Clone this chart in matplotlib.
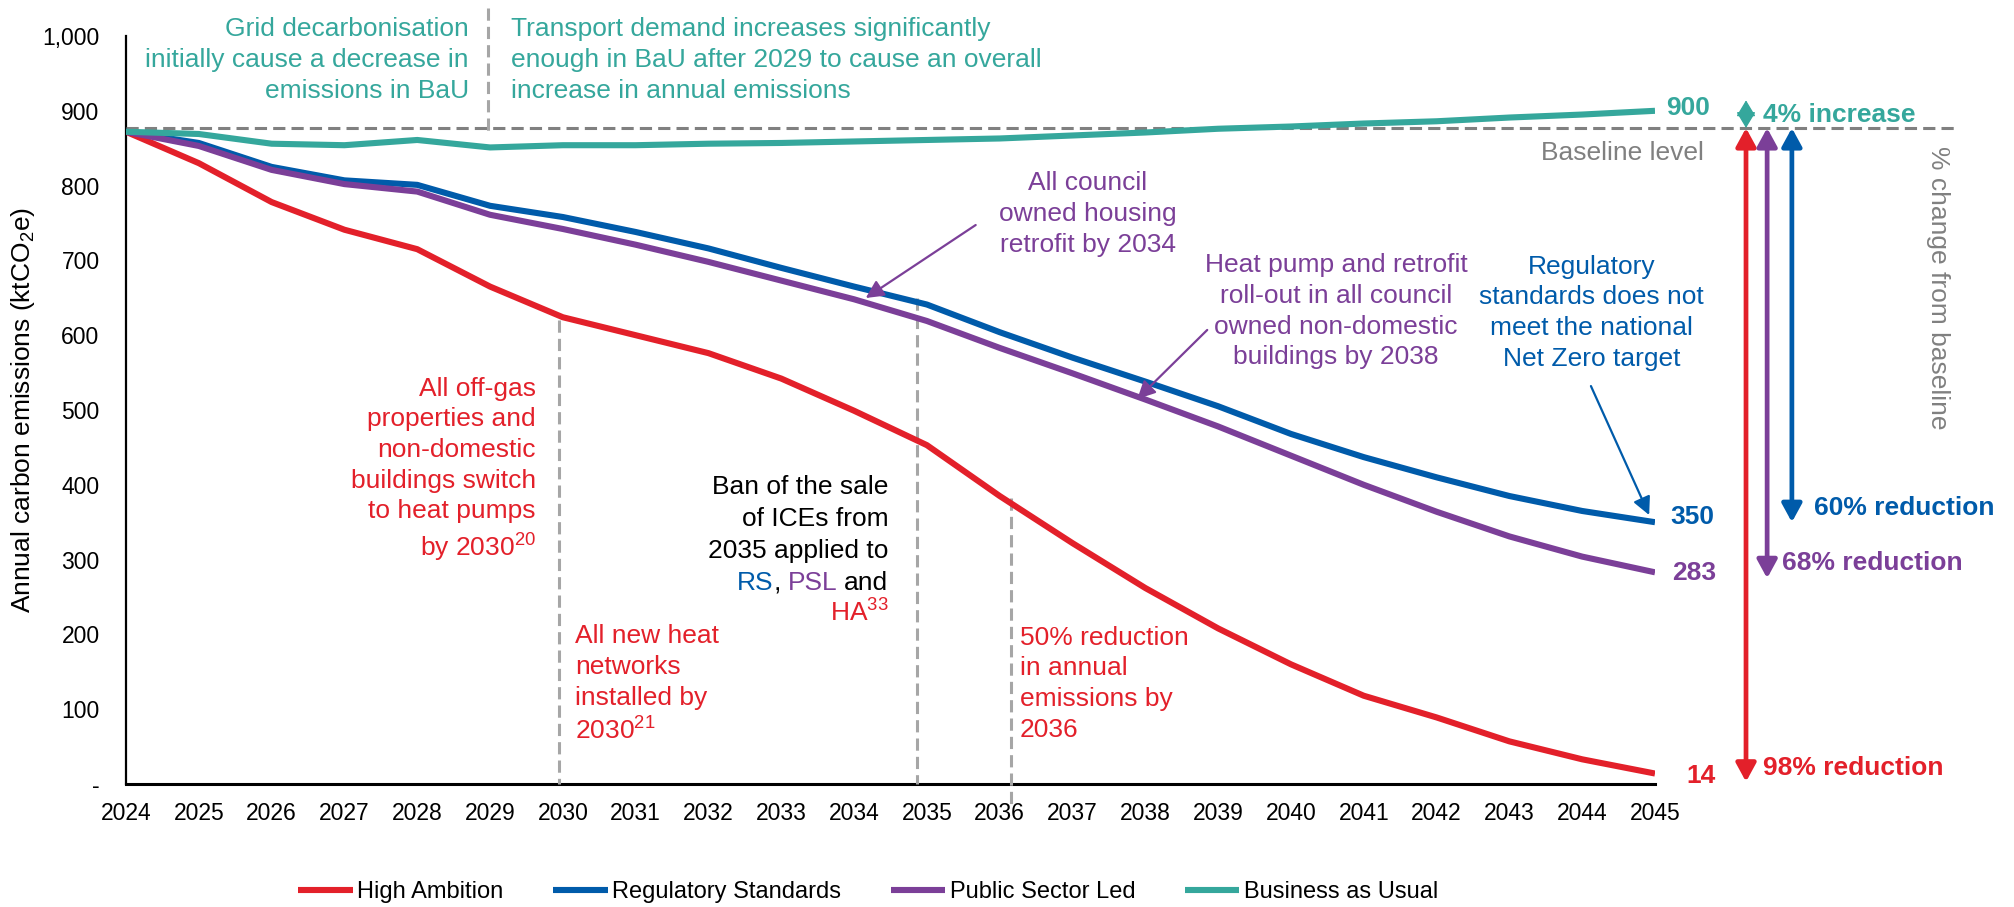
import matplotlib
matplotlib.use("Agg")
import matplotlib.pyplot as plt
from matplotlib.ticker import FuncFormatter

plt.rcParams["font.family"] = ["Liberation Sans", "DejaVu Sans"]
plt.rcParams["mathtext.fontset"] = "custom"
plt.rcParams["mathtext.rm"] = "Liberation Sans"
plt.rcParams["mathtext.it"] = "Liberation Sans:italic"
plt.rcParams["mathtext.bf"] = "Liberation Sans:bold"

# ---- data (ktCO2e per year) ----
years = list(range(2024, 2046))
high_ambition = [872, 830, 778, 741, 715, 665, 624, 600, 576, 542, 499, 453,
                 385, 322, 262, 208, 160, 118, 89, 57, 33, 14]
regulatory_standards = [872, 857, 825, 807, 801, 773, 758, 738, 716, 690, 665, 641,
                        604, 570, 538, 505, 468, 437, 410, 385, 365, 350]
public_sector_led = [872, 853, 821, 802, 792, 761, 742, 721, 698, 673, 648, 619,
                     583, 549, 514, 478, 439, 400, 364, 331, 304, 283]
business_as_usual = [872, 869, 856, 854, 861, 851, 854, 854, 856, 857, 859, 861,
                     863, 867, 871, 876, 879, 883, 886, 891, 895, 900]
series_names = ["High Ambition", "Regulatory Standards", "Public Sector Led", "Business as Usual"]
baseline_level = 877
y_ticks = list(range(0, 1001, 100))

RED = "#E3202A"
BLUE = "#005BAA"
PURPLE = "#7B3F98"
TEAL = "#35A79C"
GREY = "#808080"
LIGHT_GREY = "#A6A6A6"

fig = plt.figure(figsize=(20.15, 9.07), dpi=100)
ax = fig.add_axes([126 / 2015, 1 - 784 / 907, 1529 / 2015, 748 / 907])

series = [high_ambition, regulatory_standards, public_sector_led, business_as_usual]
colors = [RED, BLUE, PURPLE, TEAL]
for vals, col, name in zip(series, colors, series_names):
    ax.plot(years, vals, color=col, lw=4.4, label=name, solid_capstyle="butt", zorder=5)

ax.set_xlim(2024, 2045)
ax.set_ylim(0, 1000)
ax.set_xticks(years)
ax.set_xticklabels([str(y) for y in years])
ax.set_yticks(y_ticks)
ax.yaxis.set_major_formatter(FuncFormatter(lambda v, p: "-" if v == 0 else f"{int(v):,}"))
ax.tick_params(axis="both", length=0, labelsize=16.5, colors="black")
ax.tick_params(axis="y", pad=19)
ax.tick_params(axis="x", pad=13)
for s in ["top", "right"]:
    ax.spines[s].set_visible(False)
ax.spines["left"].set_linewidth(1.6)
ax.spines["bottom"].set_linewidth(2.2)
ax.set_ylabel("Annual carbon emissions (ktCO$_2$e)", fontsize=19)
ax.yaxis.set_label_coords(-0.058, 0.5)

# ---- reference lines ----
dash = (4, 2)
ax.plot([2024, 2049.12], [baseline_level, baseline_level], color=GREY, lw=2.2,
        dashes=dash, clip_on=False, zorder=3)
ax.plot([2028.97, 2028.97], [1037, 870], color=LIGHT_GREY, lw=2.2, dashes=dash,
        clip_on=False, zorder=3)
for x, top, bottom in [(2029.95, 620, 0), (2034.86, 650, 0), (2036.15, 382, -32)]:
    ax.plot([x, x], [top, bottom], color=LIGHT_GREY, lw=2.2, dashes=dash,
            clip_on=False, zorder=3)

# ---- annotation text ----
FS = 19
LS = 1.35


def note(x, y, s, color, ha):
    ax.text(x, y, s, color=color, ha=ha, va="center", multialignment=ha,
            fontsize=FS, linespacing=LS, clip_on=False, zorder=6)


note(2028.71, 968, "Grid decarbonisation\ninitially cause a decrease in\nemissions in BaU",
     TEAL, "right")
note(2029.29, 968, "Transport demand increases significantly\nenough in BaU after 2029 to cause an overall\n"
     "increase in annual emissions", TEAL, "left")
note(2037.21, 762, "All council\nowned housing\nretrofit by 2034", PURPLE, "center")
note(2040.62, 632, "Heat pump and retrofit\nroll-out in all council\nowned non-domestic\nbuildings by 2038",
     PURPLE, "center")
note(2044.13, 630, "Regulatory\nstandards does not\nmeet the national\nNet Zero target", BLUE, "center")
note(2029.63, 419, "All off-gas\nproperties and\nnon-domestic\nbuildings switch\nto heat pumps\nby 2030$^{20}$",
     RED, "right")
note(2030.17, 133, "All new heat\nnetworks\ninstalled by\n2030$^{21}$", RED, "left")
note(2036.28, 134, "50% reduction\nin annual\nemissions by\n2036", RED, "left")

ax.text(2045.67, 844, "Baseline level", color=GREY, ha="right", va="center", fontsize=FS)
ax.text(2048.89, 664, "% change from baseline", color=GREY, ha="center", va="center",
        fontsize=FS, rotation=270, clip_on=False)

# Ban of ICE sales note, right aligned, with coloured scenario codes
ban_x = 2034.47
for y, s in [(397, "Ban of the sale"), (354, "of ICEs from"), (311.5, "2035 applied to")]:
    ax.text(ban_x, y, s, color="black", ha="right", va="center", fontsize=FS)
ax.text(ban_x, 228.6, "HA$^{33}$", color=RED, ha="right", va="center", fontsize=FS)

renderer = fig.canvas.get_renderer()


def text_width(s):
    t = fig.text(0, 0, s, fontsize=FS)
    w = t.get_window_extent(renderer).width
    t.remove()
    return w


full_w = text_width("RS, PSL and")
pieces = [
    ("RS", BLUE, 0.0),
    (",", "black", text_width("RS,") - text_width(",")),
    ("PSL", PURPLE, text_width("RS, PSL") - text_width("PSL")),
    ("and", "black", full_w - text_width("and")),
]
for s, col, off in pieces:
    ax.annotate(s, xy=(ban_x, 268.7), xytext=(off - full_w, 0), textcoords="offset pixels",
                color=col, ha="left", va="center", fontsize=FS, annotation_clip=False)

# ---- pointer arrows ----
thin = dict(arrowstyle="-|>,head_length=0.6,head_width=0.3", lw=1.6, shrinkA=0, shrinkB=0,
            mutation_scale=18)
ax.annotate("", xy=(2034.16, 649.7), xytext=(2035.67, 747.3),
            arrowprops=dict(color=PURPLE, **thin), zorder=7)
ax.annotate("", xy=(2037.89, 514.7), xytext=(2038.85, 607),
            arrowprops=dict(color=PURPLE, **thin), zorder=7)
ax.annotate("", xy=(2044.92, 359.6), xytext=(2044.12, 532),
            arrowprops=dict(color=BLUE, **thin), zorder=7, annotation_clip=False)

# ---- end-of-line value labels ----
end_labels = [
    (business_as_usual, TEAL, 33, 3),
    (regulatory_standards, BLUE, 37, 5),
    (public_sector_led, PURPLE, 39, -1),
    (high_ambition, RED, 46, -2),
]
for vals, col, dx, dy in end_labels:
    ax.annotate(f"{vals[-1]:,}", xy=(years[-1], vals[-1]), xytext=(dx, dy),
                textcoords="offset pixels", color=col, fontsize=FS, fontweight="bold",
                ha="center", va="center", annotation_clip=False)

# ---- change-from-baseline arrows ----
big = dict(arrowstyle="<|-|>,head_length=0.55,head_width=0.3", lw=3.4, shrinkA=0, shrinkB=0,
           mutation_scale=20)
ax.annotate("", xy=(2046.25, 914), xytext=(2046.25, baseline_level),
            arrowprops=dict(color=TEAL, arrowstyle="<|-|>,head_length=0.5,head_width=0.3",
                            lw=1, shrinkA=0, shrinkB=0, mutation_scale=20),
            annotation_clip=False)
ax.annotate("", xy=(2046.25, 3), xytext=(2046.25, baseline_level),
            arrowprops=dict(color=RED, **big), annotation_clip=False)
ax.annotate("", xy=(2046.54, 275), xytext=(2046.54, baseline_level),
            arrowprops=dict(color=PURPLE, **big), annotation_clip=False)
ax.annotate("", xy=(2046.88, 350), xytext=(2046.88, baseline_level),
            arrowprops=dict(color=BLUE, **big), annotation_clip=False)

for x, y, s, col in [(2046.48, 894, "4% increase", TEAL),
                     (2047.18, 369, "60% reduction", BLUE),
                     (2046.74, 295.5, "68% reduction", PURPLE),
                     (2046.48, 21.4, "98% reduction", RED)]:
    ax.text(x, y, s, color=col, fontsize=FS, fontweight="bold", ha="left", va="center",
            clip_on=False)

# ---- legend ----
fig.legend(loc="center", bbox_to_anchor=(0.431, 0.0165), ncol=4, frameon=False,
           fontsize=17, handlelength=2.3, handletextpad=0.2, columnspacing=2.1)

fig.savefig("out.png", dpi=100)
